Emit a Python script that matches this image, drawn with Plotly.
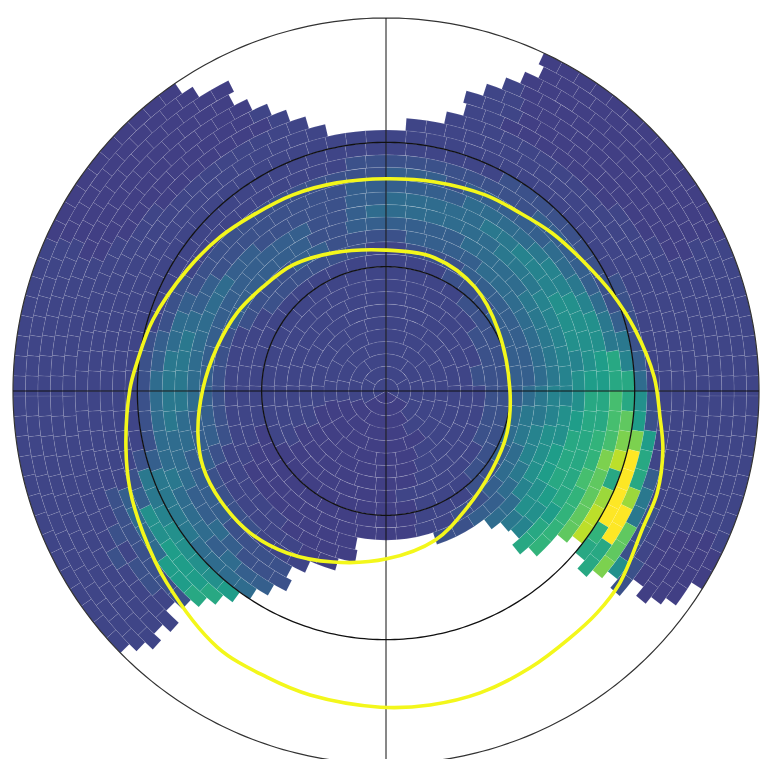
import numpy as np
import plotly.graph_objects as go

# Colour levels on the viridis 0..1 range
LEVELS = {"a": .19, "b": .21, "c": .25, "d": .3, "e": .35, "f": .4, "g": .45, "h": .5, "i": .55,
          "j": .6, "k": .65, "l": .7, "m": .75, "n": .8, "o": .85, "p": .9, "q": .95, "r": 1.0}

ring_width = 3  # degrees
ring_cells = [3, 6, 10, 14, 18, 21, 25, 29, 33, 37, 41, 45, 49, 53, 57, 60, 64, 68, 72, 76,
              80, 84, 88, 92, 96, 99, 103, 107, 111, 115]

# one column per 5 degree sector (clockwise from north), rings 1-10 | 11-20 | 21-30
sector_step = 5
sectors = [
 "bbbbbbbbbb bbcdeeddcb bbbbbbbbbb",   # 0
 "bbbbbbbbbb bbcdeeddcb bbbbbbbbbb",   # 5
 "bbbbbbbbbb bcddeeddcb bbbbbbbbbb",   # 10
 "bbbbbbbbbb bcddeedccb bbbbbbbbbb",   # 15
 "bbbbbbbbbb bcddeeddcb bbbbbbbbbb",   # 20
 "bbbbbbbbbb ccddeeedcb bbbaaaaaaa",   # 25
 "bbbbbbbbbb ccdeefedcc bbbaaaaaaa",   # 30
 "bbbbbbbbbb cddeffedcc bbbaaaaaaa",   # 35
 "bbbbbbbbbc cdeeffeddc bbbaaaaaaa",   # 40
 "bbbbbbbbbc cdeefgfddc bbbaaaaaaa",   # 45
 "bbbbbbbbbc cdeefggedc bbbbaaaaaa",   # 50
 "bbbbbbbbcc ddeffggedc bbbbaaaaaa",   # 55
 "bbbbbbbbcc ddefghhfdc bbbbbaaaaa",   # 60
 "bbbbbbbbcc ddefghhgec cbbbbbbbbb",   # 65
 "bbbbbbbccc ddefghhhfd cbbbbbbbbb",   # 70
 "bbbbbbbccc ddefghhhff cbbbbbbbbb",   # 75
 "bbbbbbbccc ddefgghijg dbbbbbbbbb",   # 80
 "bbbbbbbccc deefghiijj ebbbbbbbbb",   # 85
 "bbbbbbbbcc defgghjjlj hcbbbbbbbb",   # 90
 "bbbbbbbbcc eefghijjlm icbbbbbbbb",   # 95
 "bbbbbbbbcc effghijkln nibbbbbbbb",   # 100
 "bbbbbbbbcc efghijjknp rjdbbbbbbb",   # 105
 "bbbbbbbbcc efghijklmj rofbbbbbbb",   # 110
 "bbbbbbbbcc defhijjkmo rrfcbaaaaa",   # 115
 "bbbbbbbbcc defhhijkmp krmcbaaaaa",   # 120
 "bbbbbbbbbc cdeghhikmp jjnhcaaaaa",   # 125
 "bbbbbbbbbc cddegijkmp jjmhcaaaaa",   # 130
 "bbbbbbbbbb ccdefgjkmp jjmhcaaaaa",   # 135
 "bbbbbbbbbb bcddebbbbb bbbbbbbbbb",   # 140
 "aaabbbbbbb bccbbbbbbb bbbbbbbbbb",   # 145
 "aaaaabbbbb bccbbbbbbb bbbbbbbbbb",   # 150
 "aaaaaabbbb bbcbbbbbbb bbbbbbbbbb",   # 155
 "aaaaaabbbb bbbbbbbbbb bbbbbbbbbb",   # 160
 "aaaaaaaabb baaaaaaaaa aaaaaaaaaa",   # 165
 "aaaaaaaaaa aaaaaaaaaa aaaaaaaaaa",   # 170
 "aaaaaaaaaa aaaaaaaaaa aaaaaaaaaa",   # 175
 "aaaaaaaaaa aaaaaaaaaa aaaaaaaaaa",   # 180
 "aaaaaaaaaa aaaaaaaaaa aaaaaaaaaa",   # 185
 "aaaaaaaaaa aaaabbbbbb bbbbbbbbbb",   # 190
 "aaaaaaaaaa aaaaabbbbb bbbbbbbbbb",   # 195
 "aaaaaaaaaa aaaaabbbbb bbbbbbbbbb",   # 200
 "aaaaaaaaaa aaaaabbcbb bbbbbbbbbb",   # 205
 "aaaaaaaaaa aaaabbccdd ccbbbbbbbb",   # 210
 "aaaaaaaaaa aaaabbccde iibbbbbbbb",   # 215
 "aaaaaaaaaa aaabbccdee hjjbbbbbbb",   # 220
 "aaaaaaaaaa aaabbccdde hiicbbbbbb",   # 225
 "aaaaaaaaaa aaabbcdeef hiiccbbbbb",   # 230
 "aaaaaaaaaa aaabbcddef hhecbcbbbb",   # 235
 "aaaaaaaaab aaabbcddef gheccbbbbb",   # 240
 "aaaaaaaabb aabbcddeff fddcbbbbbb",   # 245
 "aaaaaabbbb abbccddeed ccbbbbbbbb",   # 250
 "aaaaabbbbb bbbcddeeec bbbbbbbbbb",   # 255
 "aaaabbbbbb bbbcddefec bbbbbbbbbb",   # 260
 "aabbbbbbbb bbbcdeffec bbbbbbbbbb",   # 265
 "bbbbbbbbbb bbbcdeffec bbbbbbbbbb",   # 270
 "bbbbbbbbbb bbbcdeffdc bbbbbbbbbb",   # 275
 "bbbbbbbbbb bbbcdefedc bbbbbbbbbb",   # 280
 "bbbbbbbbbb bbbcdeeecb bbbbbbbbbb",   # 285
 "bbbbbbbbbb bbbcdeedcb bbbbbbbbbb",   # 290
 "bbbbbbbbbb bbcdeedccb bbbbbaaaaa",   # 295
 "bbbbbbbbbb bbcddedcbb bbbbaaaaaa",   # 300
 "bbbbbbbbbb bccdddccbb bbbbaaaaaa",   # 305
 "bbbbbbbbbb bccdddccbb bbbaaaaaaa",   # 310
 "bbbbbbbbbb bccdddccbb bbbaaaaaaa",   # 315
 "bbbbbbbbbb bcdddcccbb bbbaaaaaaa",   # 320
 "bbbbbbbbbb bcdddcccbb bbbaaaaaaa",   # 325
 "bbbbbbbbbb bcdddcccbb bbbaaaaaaa",   # 330
 "bbbbbbbbbb bcccccccbb bbbbbbbbbb",   # 335
 "bbbbbbbbbb bcccccccbb bbbbbbbbbb",   # 340
 "bbbbbbbbbb bccddcccbb bbbbbbbbbb",   # 345
 "bbbbbbbbbb bbcddddccb bbbbbbbbbb",   # 350
 "bbbbbbbbbb bbcdeddccb bbbbbbbbbb",   # 355
]

# Empty cells: for each ring, the clockwise angles between which no cell is drawn
top_gap_start = {22: 349, 23: 342, 24: 340, 25: 338, 26: 334, 27: 333, 28: 331.6, 29: 326.4, 30: 325.5}
top_gap_end = {22: 6, 23: 12.4, 24: 15, 25: 16.5, 26: 17, 27: 22, 28: 23.5, 29: 25, 30: 26}
bottom_gap_start = {13: 162, 14: 144, 15: 140, 16: 138, 17: 139, 18: 139, 19: 132, 20: 128, 21: 128.5,
                    22: 131, 23: 129, 24: 130, 25: 130, 26: 129, 27: 128.7, 28: 128, 29: 125.7, 30: 123.5}
bottom_gap_end = {13: 190, 14: 190, 15: 196.5, 16: 202, 17: 208, 18: 209, 19: 211, 20: 213, 21: 214.5,
                  22: 218, 23: 222, 24: 224.5, 25: 224, 26: 223.5, 27: 223.5, 28: 223.5, 29: 223.5, 30: 225}

# yellow contours: clockwise angle from north, colatitude in degrees
outer_theta = [0, 13.2, 26.8, 36.4, 46.4, 57.3, 66.6, 76.2, 87, 95.4, 102, 110.6, 117.9, 129.4, 136.5, 143.3,
               152.5, 162.7, 172, 181, 194, 202.6, 213.4, 228.8, 239.7, 248.9, 257.8, 270.4, 276.4, 287,
               301.3, 312.9, 322.9, 334.6, 346.7, 360]
outer_r = [51.2, 51.8, 53, 53.7, 55.3, 57.1, 59.4, 61.9, 64.8, 66.4, 68.3, 69.9, 70.2, 73, 73.9, 74.3,
           75.3, 76.3, 76.5, 76.3, 75.6, 74.8, 74, 70.3, 67.9, 66.2, 64.2, 61.8, 60.5, 58.8,
           56.2, 54.6, 53.2, 52.4, 51.6, 51.2]
inner_theta = [0, 20.2, 40.6, 61.4, 89.5, 109.1, 126.7, 146.4, 161.8, 179.7, 197.2, 211.4, 223.8,
               236.7, 247.4, 257.4, 270.6, 284.6, 297.6, 310.2, 323.6, 339, 360]
inner_r = [34, 34.2, 33, 30.8, 29.9, 30.9, 31.9, 34.5, 37.9, 40.5, 43.2, 45.8, 47.4,
           47.9, 47.8, 46.5, 44.2, 42.1, 40.6, 38.9, 37.8, 35.7, 34]

grid_circles = [30, 60]
r_max = 90
r_range = 90.4

# build the cells
cols = [s.replace(" ", "").ljust(30, "b") for s in sectors]
c_theta, c_width, c_base, c_val = [], [], [], []
for ring, n in enumerate(ring_cells):
    num = ring + 1
    w = 360 / n
    for k in range(n):
        th = (k + .5) * w
        if num in top_gap_start and (th >= top_gap_start[num] or th <= top_gap_end[num]):
            continue
        if num in bottom_gap_start and bottom_gap_start[num] <= th <= bottom_gap_end[num]:
            continue
        ch = cols[int(th // sector_step) % len(cols)][ring]
        c_theta.append(th)
        c_width.append(w)
        c_base.append(ring * ring_width)
        c_val.append(LEVELS[ch])

fig = go.Figure()
fig.add_trace(go.Barpolar(
    theta=c_theta, width=c_width, base=c_base, r=[ring_width] * len(c_theta),
    marker=dict(color=c_val, colorscale="Viridis", cmin=0, cmax=1, showscale=False,
                line=dict(color="rgba(255,255,255,0.14)", width=0.6)),
    hoverinfo="skip", showlegend=False))

circle = np.linspace(0, 360, 361)
for rc in grid_circles:
    fig.add_trace(go.Scatterpolar(theta=circle, r=[rc] * 361, mode="lines",
                                  line=dict(color="#111", width=1.3), hoverinfo="skip", showlegend=False))
fig.add_trace(go.Scatterpolar(theta=circle, r=[r_max] * 361, mode="lines",
                              line=dict(color="#333", width=1.2), hoverinfo="skip", showlegend=False))
for a in (0, 90):
    fig.add_trace(go.Scatterpolar(theta=[a, a, a + 180], r=[r_max, 0, r_max], mode="lines",
                                  line=dict(color="#111", width=1), hoverinfo="skip", showlegend=False))
for th, rr in ((outer_theta, outer_r), (inner_theta, inner_r)):
    fig.add_trace(go.Scatterpolar(theta=th, r=rr, mode="lines",
                                  line=dict(color="#f3f71b", width=3.6, shape="spline", smoothing=1.0),
                                  hoverinfo="skip", showlegend=False))

W, H = 762, 767
R = 373 * r_range / r_max
fig.update_layout(
    width=W, height=H, margin=dict(l=0, r=0, t=0, b=0), paper_bgcolor="white",
    showlegend=False,
    polar=dict(
        domain=dict(x=[(386 - R) / W, (386 + R) / W], y=[(H - 391 - R) / H, (H - 391 + R) / H]),
        bgcolor="white", barmode="overlay",
        radialaxis=dict(visible=False, range=[0, r_range]),
        angularaxis=dict(visible=False, direction="clockwise", rotation=90),
    ),
)
fig.write_html("out.html", config={"displayModeBar": False},
               post_script="document.body.style.margin='0';document.body.style.overflow='hidden';")
